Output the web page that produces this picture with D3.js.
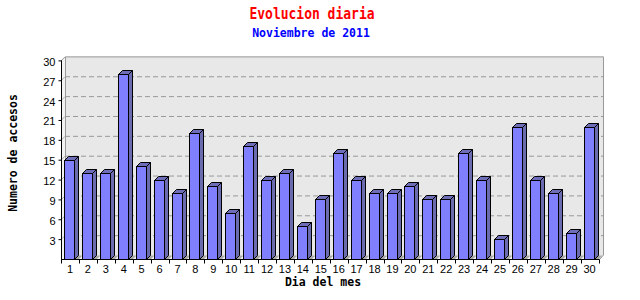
<!DOCTYPE html>
<html>
<head>
<meta charset="utf-8">
<script src="https://cdn.jsdelivr.net/npm/d3@7"></script>
<style>
html,body{margin:0;padding:0;background:#fff;}
svg{display:block;}
</style>
</head>
<body>
<svg id="chart" width="640" height="300"></svg>
<script>
// ---- data ----
const days = ["1","2","3","4","5","6","7","8","9","10","11","12","13","14","15","16","17","18","19","20","21","22","23","24","25","26","27","28","29","30"];
const visits = [15,13,13,28,14,12,10,19,11,7,17,12,13,5,9,16,12,10,10,11,9,9,16,12,3,20,12,10,4,20];
const yTicks = [3,6,9,12,15,18,21,24,27,30];
const titleText = "Evolucion diaria";
const subtitleText = "Noviembre de 2011";
const yTitle = "Numero de accesos";
const xTitle = "Dia del mes";

const svg = d3.select("#chart");
const left = 61, right = 598.5, base = 259;
const dx = 4, dy = 4;
const x = d3.scaleBand().domain(days).range([left, right]).padding(0);
const y = d3.scaleLinear().domain([0, 30]).range([base, 60.4]);
const wallRight = 604;

// back wall
svg.append("rect")
  .attr("x", left + dx).attr("y", y(30) - dy)
  .attr("width", wallRight - left - dx).attr("height", base - dy - (y(30) - dy))
  .attr("fill", "#e8e8e8");
// left wall
svg.append("polygon")
  .attr("points", [[left, base], [left, y(30)], [left + dx, y(30) - dy], [left + dx, base - dy]].join(" "))
  .attr("fill", "#f2f2f2");
// floor
svg.append("polygon")
  .attr("points", [[left, base], [wallRight - dx, base], [wallRight, base - dy], [left + dx, base - dy]].join(" "))
  .attr("fill", "#f2f2f2");

// grid lines
const grid = svg.append("g");
yTicks.filter(v => v < 30).forEach(v => {
  grid.append("line")
    .attr("x1", left + dx).attr("x2", wallRight)
    .attr("y1", y(v) - dy + 0.5).attr("y2", y(v) - dy + 0.5)
    .attr("stroke", "#999").attr("stroke-dasharray", "5,3");
  grid.append("line")
    .attr("x1", left).attr("y1", y(v) + 0.5)
    .attr("x2", left + dx).attr("y2", y(v) - dy + 0.5)
    .attr("stroke", "#aaa");
});
// wall edges
svg.append("polyline")
  .attr("points", [[left + dx + 0.5, base - dy], [left + dx + 0.5, y(30) - dy + 0.5], [wallRight - 0.5, y(30) - dy + 0.5], [wallRight - 0.5, base - dy], [wallRight - dx, base]].join(" "))
  .attr("fill", "none").attr("stroke", "#999");
svg.append("line")
  .attr("x1", left).attr("y1", y(30) + 0.5).attr("x2", left + dx).attr("y2", y(30) - dy + 0.5)
  .attr("stroke", "#999");

// bars
const bw = 10;
const bars = svg.append("g");
days.forEach((d, i) => {
  const v = visits[i];
  const bx = Math.round(x(d)) + 3.5;
  const ty = Math.round(y(v)) + 0.5;
  const by = base + 0.5;
  // shadow on floor
  bars.append("polygon")
    .attr("points", [[bx + bw, by], [bx + bw + dx, by - dy], [bx + bw + dx + 4, by - dy], [bx + bw + 4, by]].join(" "))
    .attr("fill", "#a8a8a8");
  // front
  bars.append("rect")
    .attr("x", bx).attr("y", ty).attr("width", bw).attr("height", by - ty)
    .attr("fill", "#8080ff").attr("stroke", "#000");
  // side
  bars.append("polygon")
    .attr("points", [[bx + bw, ty], [bx + bw + dx, ty - dy], [bx + bw + dx, by - dy], [bx + bw, by]].join(" "))
    .attr("fill", "#6b6bb0").attr("stroke", "#000");
  // top
  bars.append("polygon")
    .attr("points", [[bx, ty], [bx + dx, ty - dy], [bx + bw + dx, ty - dy], [bx + bw, ty]].join(" "))
    .attr("fill", "#6e6eb8").attr("stroke", "#000");
});

// axes
const yAxis = d3.axisLeft(y).tickValues(yTicks).tickSize(3).tickPadding(3);
const gy = svg.append("g").attr("transform", `translate(${left + 0.5},0)`).call(yAxis);
gy.select(".domain").attr("d", `M0,${y(30)}V${base + 0.5}`).attr("stroke", "#000");
gy.selectAll("text").attr("font-family", "Liberation Sans, Arial, sans-serif").attr("font-size", 11).attr("fill", "#000").attr("dy", "0.45em");
gy.selectAll("line").attr("stroke", "#000");

const xAxis = d3.axisBottom(x).tickSize(0).tickPadding(6);
const gx = svg.append("g").attr("transform", `translate(0,${base + 0.5})`).call(xAxis);
gx.select(".domain").attr("d", `M${left},0H${right + 1}`).attr("stroke", "#000");
gx.selectAll("text").attr("font-family", "Liberation Sans, Arial, sans-serif").attr("font-size", 11).attr("fill", "#000");
// boundary ticks
const bounds = days.map(d => x(d)).concat([right]);
gx.selectAll(".btick").data(bounds).enter().append("line")
  .attr("class", "btick")
  .attr("x1", b => Math.round(b) + 0.5).attr("x2", b => Math.round(b) + 0.5)
  .attr("y1", 0).attr("y2", 4).attr("stroke", "#000");

// titles
const mono = "DejaVu Sans Mono, monospace";
svg.append("text").text(titleText)
  .attr("x", 312).attr("y", 19).attr("text-anchor", "middle")
  .attr("font-family", mono).attr("font-weight", "bold").attr("font-size", 13)
  .attr("fill", "#ff0000").attr("transform", "translate(0,-3.8) scale(1,1.2)");
svg.append("text").text(subtitleText)
  .attr("x", 311).attr("y", 37).attr("text-anchor", "middle")
  .attr("font-family", mono).attr("font-weight", "bold").attr("font-size", 11.5)
  .attr("fill", "#0000ff");
svg.append("text").text(yTitle)
  .attr("transform", "translate(17,153) rotate(-90)").attr("text-anchor", "middle")
  .attr("font-family", mono).attr("font-weight", "bold").attr("font-size", 11.5)
  .attr("fill", "#000");
svg.append("text").text(xTitle)
  .attr("x", 323).attr("y", 286).attr("text-anchor", "middle")
  .attr("font-family", mono).attr("font-weight", "bold").attr("font-size", 11.5)
  .attr("fill", "#000");
</script>
</body>
</html>
